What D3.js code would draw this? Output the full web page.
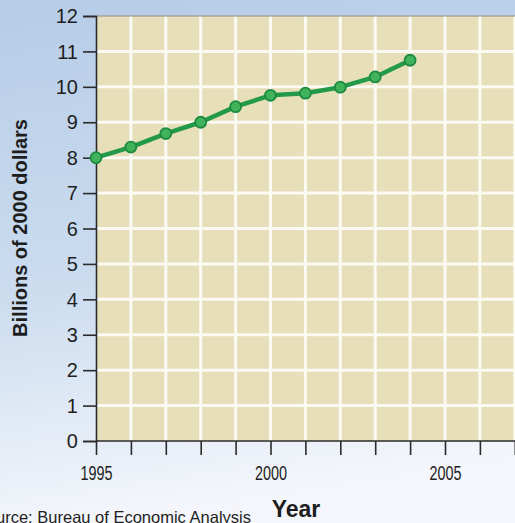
<!DOCTYPE html>
<html>
<head>
<meta charset="utf-8">
<script src="https://cdn.jsdelivr.net/npm/d3@7"></script>
<style>
  html, body { margin: 0; padding: 0; background: #fff; }
  svg { display: block; }
</style>
</head>
<body>
<svg id="chart" width="515" height="523"></svg>
<script>
// Real output, billions of 2000 dollars
const years  = [1995, 1996, 1997, 1998, 1999, 2000, 2001, 2002, 2003, 2004];
const values = [8.0, 8.3, 8.68, 9.0, 9.44, 9.76, 9.82, 9.99, 10.28, 10.75];
const yTicks = [0, 1, 2, 3, 4, 5, 6, 7, 8, 9, 10, 11, 12];
const xTicks = [1995, 1996, 1997, 1998, 1999, 2000, 2001, 2002, 2003, 2004, 2005, 2006, 2007];
const xLabels = [1995, 2000, 2005];

const W = 515, H = 523;
const svg = d3.select("#chart");

// page background: soft blue wash fading to white
const defs = svg.append("defs");
const bg = defs.append("linearGradient").attr("id", "bg")
  .attr("x1", 0).attr("y1", 0).attr("x2", 0.15).attr("y2", 1);
bg.append("stop").attr("offset", "0%").attr("stop-color", "#b6cce7");
bg.append("stop").attr("offset", "55%").attr("stop-color", "#cbdcef");
bg.append("stop").attr("offset", "85%").attr("stop-color", "#e6edf7");
bg.append("stop").attr("offset", "100%").attr("stop-color", "#f4f6fb");
svg.append("rect").attr("width", W).attr("height", H).attr("fill", "url(#bg)");

const plotLeft = 96, plotTop = 16, plotBottom = 441;
const x = d3.scaleLinear().domain([1995, 2007.2]).range([plotLeft, plotLeft + 12.2 * 34.9]);
const y = d3.scaleLinear().domain([0, 12]).range([plotBottom, plotTop]);

// plotting field
svg.append("rect")
  .attr("x", plotLeft).attr("y", plotTop)
  .attr("width", W - plotLeft + 10).attr("height", plotBottom - plotTop)
  .attr("fill", "#e7dfba");

// white grid
const grid = svg.append("g").attr("stroke", "#fbfaf3").attr("stroke-width", 3);
grid.selectAll("line.v").data(xTicks.filter(d => d > 1995)).join("line")
  .attr("class", "v")
  .attr("x1", d => x(d)).attr("x2", d => x(d))
  .attr("y1", plotTop).attr("y2", plotBottom);
grid.selectAll("line.h").data(yTicks.filter(d => d > 0 && d < 12)).join("line")
  .attr("class", "h")
  .attr("x1", plotLeft).attr("x2", W + 10)
  .attr("y1", d => y(d)).attr("y2", d => y(d));

// top edge of field
svg.append("line").attr("x1", plotLeft).attr("x2", W + 10)
  .attr("y1", plotTop).attr("y2", plotTop)
  .attr("stroke", "#8a8a80").attr("stroke-width", 1.2);

// y axis
const yAxis = d3.axisLeft(y).tickValues(yTicks).tickSize(13).tickPadding(5);
const gy = svg.append("g").attr("transform", `translate(${plotLeft},0)`).call(yAxis);
gy.select(".domain").attr("stroke", "#2b2b2b").attr("stroke-width", 1.6);
gy.selectAll(".tick line").attr("stroke", "#2b2b2b").attr("stroke-width", 1.6);
gy.selectAll(".tick text")
  .attr("font-family", "'Liberation Sans', Arial, sans-serif")
  .attr("font-size", 21).attr("fill", "#1e1e1e")
  .attr("transform", "translate(-1,0) scale(0.95,1)");

// x axis: condensed year labels
const xAxis = d3.axisBottom(x).tickValues(xTicks).tickSize(14).tickPadding(11)
  .tickFormat(d => xLabels.includes(d) ? d3.format("d")(d) : "");
const gx = svg.append("g").attr("transform", `translate(0,${plotBottom})`).call(xAxis);
gx.select(".domain").attr("stroke", "#2b2b2b").attr("stroke-width", 1.6).attr("d", `M${plotLeft},0H${W + 10}`);
gx.selectAll(".tick line").attr("stroke", "#2b2b2b").attr("stroke-width", 1.6);
gx.selectAll(".tick text")
  .attr("font-family", "'Liberation Sans', Arial, sans-serif")
  .attr("font-size", 19.5).attr("fill", "#1e1e1e")
  .attr("transform", "scale(0.74,1)");

// axis titles
svg.append("text")
  .attr("transform", `translate(27,228) rotate(-90)`)
  .attr("text-anchor", "middle")
  .attr("font-family", "'Liberation Sans', Arial, sans-serif")
  .attr("font-weight", "bold").attr("font-size", 20).attr("fill", "#1e1e1e")
  .text("Billions of 2000 dollars");

svg.append("text")
  .attr("x", 296).attr("y", 517)
  .attr("text-anchor", "middle")
  .attr("font-family", "'Liberation Sans', Arial, sans-serif")
  .attr("font-weight", "bold").attr("font-size", 23).attr("fill", "#1e1e1e")
  .text("Year");

svg.append("text")
  .attr("x", 251).attr("y", 523)
  .attr("text-anchor", "end")
  .attr("font-family", "'Liberation Sans', Arial, sans-serif")
  .attr("font-size", 16.5).attr("fill", "#1e1e1e")
  .text("Source: Bureau of Economic Analysis");

// series line and markers
const data = years.map((yr, i) => ({ yr, v: values[i] }));
svg.append("path").datum(data)
  .attr("fill", "none").attr("stroke", "#23994a").attr("stroke-width", 4.5)
  .attr("stroke-linejoin", "round")
  .attr("d", d3.line().x(d => x(d.yr)).y(d => y(d.v)));
svg.selectAll("circle.pt").data(data).join("circle")
  .attr("class", "pt")
  .attr("cx", d => x(d.yr)).attr("cy", d => y(d.v))
  .attr("r", 5.5)
  .attr("fill", "#3fb25a").attr("stroke", "#1d8a40").attr("stroke-width", 1.8);
</script>
</body>
</html>
